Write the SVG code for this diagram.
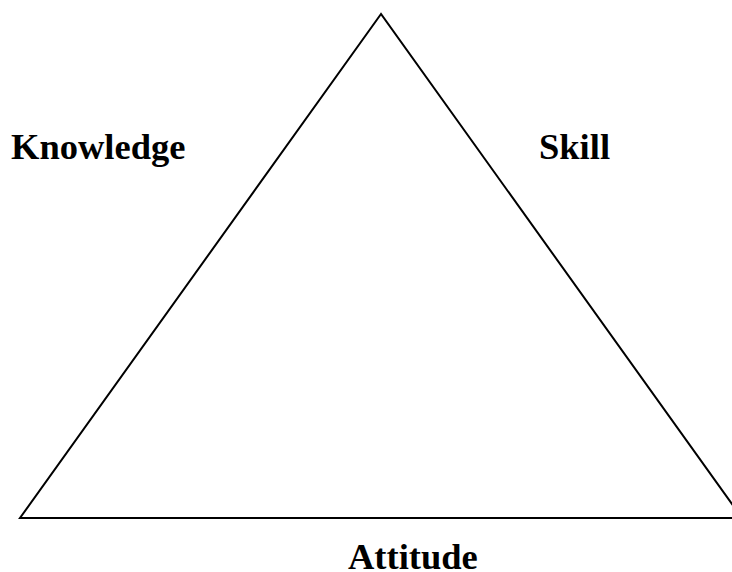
<svg xmlns="http://www.w3.org/2000/svg" width="732" height="572" viewBox="0 0 732 572">
<style>
.lbl{font-family:"Liberation Serif","Times New Roman",serif;font-weight:bold;font-size:36.5px;fill:#000}
.edge{stroke:#000;stroke-width:2;fill:none}
</style>
<rect width="732" height="572" fill="#fff"/>
<g id="connectors">
<polygon class="edge" points="381,14 20,518 742,518"/>
</g>
<g id="knowledge"><text class="lbl" x="11" y="159">Knowledge</text></g>
<g id="skill"><text class="lbl" x="539" y="159">Skill</text></g>
<g id="attitude"><text class="lbl" x="348" y="569">Attitude</text></g>
</svg>
